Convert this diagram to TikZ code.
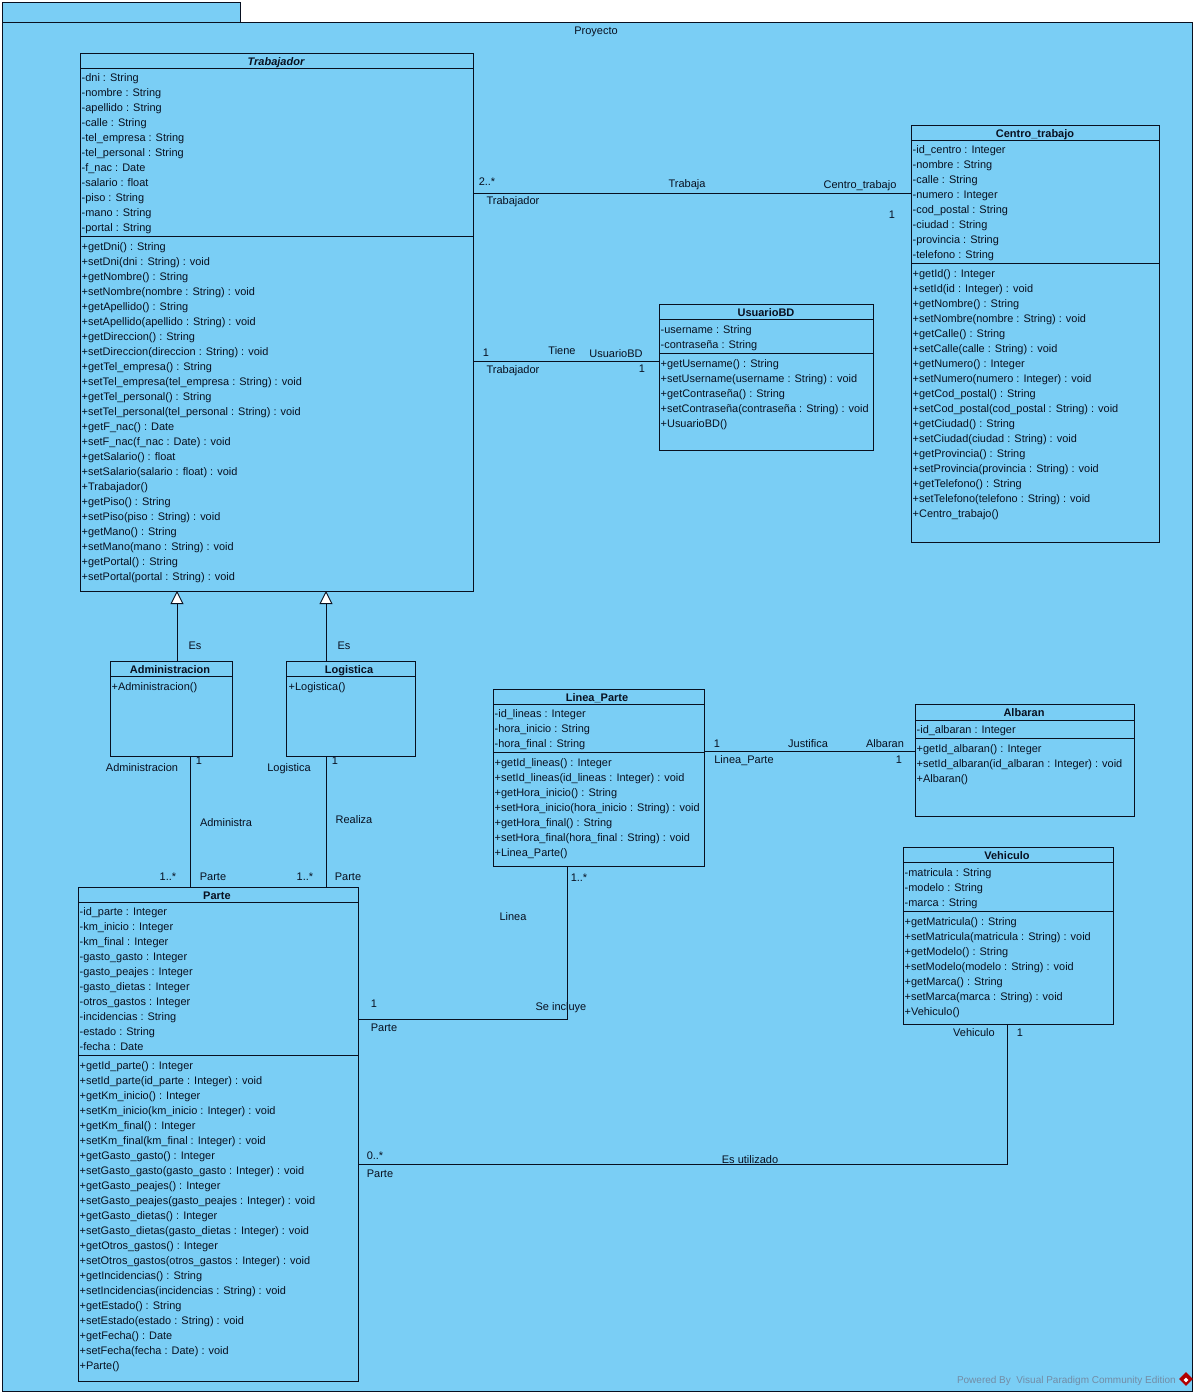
\documentclass[tikz,border=0pt]{standalone}
\usepackage{fontspec}
\setmainfont{Liberation Sans}
\usetikzlibrary{arrows.meta,shapes.geometric}
\definecolor{pkgblue}{RGB}{122,206,245}
\definecolor{umlink}{RGB}{8,16,32}
\definecolor{markgray}{RGB}{115,140,165}
\newcommand{\umlrule}[2]{\draw [umlline] ([yshift=-#2pt]#1.north west) -- ([yshift=-#2pt]#1.north east);}

\begin{document}
\begin{tikzpicture}[x=1pt,y=-1pt]
  \tikzset{umlline/.style={draw=umlink,line width=0.9pt},
    umlbox/.style={rectangle,umlline,anchor=north west,inner sep=0pt,outer sep=0pt},
    pkgbox/.style={umlbox,fill=pkgblue},
    umlname/.style={font=\fontsize{11}{15}\selectfont\bfseries,text=umlink,inner sep=0pt,text height=8pt,text depth=2pt,yshift=-1.5pt},
    umltext/.style={font=\fontsize{10.95}{15}\selectfont,text=umlink,align=left,anchor=north west,inner sep=0pt,xshift=0.5pt,yshift=-3.7pt},
    lbl/.style={font=\fontsize{11}{15}\selectfont,text=umlink,inner sep=0pt,text height=8pt,text depth=2pt,yshift=-1.5pt},
    assoc/.style={umlline},
    gener/.style={umlline,-{Triangle[fill=white,length=13pt,width=13pt,line width=0.9pt]}}}
  \useasboundingbox (0,0) rectangle (1198,1396);

  \node [pkgbox,minimum width=238pt,minimum height=20pt] (tab) at (2,2.5) {};
  \node [pkgbox,minimum width=1190pt,minimum height=1369pt] (proyecto) at (2,22.5) {};
  \node [lbl] (proyectoName) at (596,30) {Proyecto};

  % Trabajador
  \node [umlbox,minimum width=393pt,minimum height=537.5pt] (trabajador) at (80,53.5) {};
  \node [umlname,font=\fontsize{11}{15}\selectfont\bfseries\itshape] (trabajadorName) at (276,61) {Trabajador};
  \umlrule{trabajador}{14.5}
  \umlrule{trabajador}{183}
  \node [umltext] (trabajadorAttr) at (81,70) {-dni : String\\-nombre : String\\-apellido : String\\-calle : String\\-tel\_empresa : String\\-tel\_personal : String\\-f\_nac : Date\\-salario : float\\-piso : String\\-mano : String\\-portal : String};
  \node [umltext] (trabajadorOps) at (81,239) {+getDni() : String\\+setDni(dni : String) : void\\+getNombre() : String\\+setNombre(nombre : String) : void\\+getApellido() : String\\+setApellido(apellido : String) : void\\+getDireccion() : String\\+setDireccion(direccion : String) : void\\+getTel\_empresa() : String\\+setTel\_empresa(tel\_empresa : String) : void\\+getTel\_personal() : String\\+setTel\_personal(tel\_personal : String) : void\\+getF\_nac() : Date\\+setF\_nac(f\_nac : Date) : void\\+getSalario() : float\\+setSalario(salario : float) : void\\+Trabajador()\\+getPiso() : String\\+setPiso(piso : String) : void\\+getMano() : String\\+setMano(mano : String) : void\\+getPortal() : String\\+setPortal(portal : String) : void};

  % Centro_trabajo
  \node [umlbox,minimum width=248pt,minimum height=416.5pt] (centro) at (911,125.5) {};
  \node [umlname] (centroName) at (1035,133) {Centro\_trabajo};
  \umlrule{centro}{14.5}
  \umlrule{centro}{137.5}
  \node [umltext] (centroAttr) at (912,142) {-id\_centro : Integer\\-nombre : String\\-calle : String\\-numero : Integer\\-cod\_postal : String\\-ciudad : String\\-provincia : String\\-telefono : String};
  \node [umltext] (centroOps) at (912,266) {+getId() : Integer\\+setId(id : Integer) : void\\+getNombre() : String\\+setNombre(nombre : String) : void\\+getCalle() : String\\+setCalle(calle : String) : void\\+getNumero() : Integer\\+setNumero(numero : Integer) : void\\+getCod\_postal() : String\\+setCod\_postal(cod\_postal : String) : void\\+getCiudad() : String\\+setCiudad(ciudad : String) : void\\+getProvincia() : String\\+setProvincia(provincia : String) : void\\+getTelefono() : String\\+setTelefono(telefono : String) : void\\+Centro\_trabajo()};

  % UsuarioBD
  \node [umlbox,minimum width=214pt,minimum height=146pt] (usuario) at (659,304) {};
  \node [umlname] (usuarioName) at (766,312) {UsuarioBD};
  \umlrule{usuario}{15}
  \umlrule{usuario}{49}
  \node [umltext] (usuarioAttr) at (660,322) {-username : String\\-contraseña : String};
  \node [umltext] (usuarioOps) at (660,356) {+getUsername() : String\\+setUsername(username : String) : void\\+getContraseña() : String\\+setContraseña(contraseña : String) : void\\+UsuarioBD()};

  % Administracion y Logistica
  \node [umlbox,minimum width=122pt,minimum height=95pt] (administracion) at (110,661) {};
  \node [umlname] (administracionName) at (170,669) {Administracion};
  \umlrule{administracion}{15}
  \node [umltext] (administracionOps) at (111,679) {+Administracion()};
  \node [umlbox,minimum width=129pt,minimum height=95pt] (logistica) at (286,661) {};
  \node [umlname] (logisticaName) at (349,669) {Logistica};
  \umlrule{logistica}{15}
  \node [umltext] (logisticaOps) at (288,679) {+Logistica()};

  % Linea_Parte
  \node [umlbox,minimum width=211pt,minimum height=177pt] (lineaParte) at (493,689) {};
  \node [umlname] (lineaParteName) at (597,697) {Linea\_Parte};
  \umlrule{lineaParte}{15}
  \umlrule{lineaParte}{63}
  \node [umltext] (lineaParteAttr) at (494,706) {-id\_lineas : Integer\\-hora\_inicio : String\\-hora\_final : String};
  \node [umltext] (lineaParteOps) at (494,755) {+getId\_lineas() : Integer\\+setId\_lineas(id\_lineas : Integer) : void\\+getHora\_inicio() : String\\+setHora\_inicio(hora\_inicio : String) : void\\+getHora\_final() : String\\+setHora\_final(hora\_final : String) : void\\+Linea\_Parte()};

  % Albaran
  \node [umlbox,minimum width=219pt,minimum height=112pt] (albaran) at (915,704) {};
  \node [umlname] (albaranName) at (1024,712) {Albaran};
  \umlrule{albaran}{16}
  \umlrule{albaran}{34}
  \node [umltext] (albaranAttr) at (916,722) {-id\_albaran : Integer};
  \node [umltext] (albaranOps) at (916,741) {+getId\_albaran() : Integer\\+setId\_albaran(id\_albaran : Integer) : void\\+Albaran()};

  % Vehiculo
  \node [umlbox,minimum width=210pt,minimum height=177pt] (vehiculo) at (903,847) {};
  \node [umlname] (vehiculoName) at (1007,855) {Vehiculo};
  \umlrule{vehiculo}{15}
  \umlrule{vehiculo}{64}
  \node [umltext] (vehiculoAttr) at (904,865) {-matricula : String\\-modelo : String\\-marca : String};
  \node [umltext] (vehiculoOps) at (904,914) {+getMatricula() : String\\+setMatricula(matricula : String) : void\\+getModelo() : String\\+setModelo(modelo : String) : void\\+getMarca() : String\\+setMarca(marca : String) : void\\+Vehiculo()};

  % Parte
  \node [umlbox,minimum width=280pt,minimum height=494pt] (parte) at (78,887) {};
  \node [umlname] (parteName) at (217,895) {Parte};
  \umlrule{parte}{15}
  \umlrule{parte}{168}
  \node [umltext] (parteAttr) at (79,904) {-id\_parte : Integer\\-km\_inicio : Integer\\-km\_final : Integer\\-gasto\_gasto : Integer\\-gasto\_peajes : Integer\\-gasto\_dietas : Integer\\-otros\_gastos : Integer\\-incidencias : String\\-estado : String\\-fecha : Date};
  \node [umltext] (parteOps) at (79,1058) {+getId\_parte() : Integer\\+setId\_parte(id\_parte : Integer) : void\\+getKm\_inicio() : Integer\\+setKm\_inicio(km\_inicio : Integer) : void\\+getKm\_final() : Integer\\+setKm\_final(km\_final : Integer) : void\\+getGasto\_gasto() : Integer\\+setGasto\_gasto(gasto\_gasto : Integer) : void\\+getGasto\_peajes() : Integer\\+setGasto\_peajes(gasto\_peajes : Integer) : void\\+getGasto\_dietas() : Integer\\+setGasto\_dietas(gasto\_dietas : Integer) : void\\+getOtros\_gastos() : Integer\\+setOtros\_gastos(otros\_gastos : Integer) : void\\+getIncidencias() : String\\+setIncidencias(incidencias : String) : void\\+getEstado() : String\\+setEstado(estado : String) : void\\+getFecha() : Date\\+setFecha(fecha : Date) : void\\+Parte()};

  % conectores
  \draw [assoc] ([yshift=-139.5pt]trabajador.north east) -- ([yshift=-67.5pt]centro.north west);
  \draw [assoc] ([yshift=-307.5pt]trabajador.north east) -- ([yshift=-57pt]usuario.north west);
  \draw [assoc] ([yshift=-62pt]lineaParte.north east) -- ([yshift=-47pt]albaran.north west);
  \draw [gener] ([xshift=67pt]administracion.north west) -- ([xshift=97pt]trabajador.south west);
  \draw [gener] ([xshift=40pt]logistica.north west) -- ([xshift=246pt]trabajador.south west);
  \draw [assoc] ([xshift=80pt]administracion.south west) -- ([xshift=112pt]parte.north west);
  \draw [assoc] ([xshift=40pt]logistica.south west) -- ([xshift=248pt]parte.north west);
  \draw [assoc] ([yshift=-132pt]parte.north east) -| ([xshift=74pt]lineaParte.south west);
  \draw [assoc] ([yshift=-277pt]parte.north east) -| ([xshift=104pt]vehiculo.south west);

  % etiquetas
  \node [lbl] (trabajaMultA) at (487,181) {2..*};
  \node [lbl] (trabajaRolA) at (513,200) {Trabajador};
  \node [lbl] (trabajaName) at (687,183) {Trabaja};
  \node [lbl] (trabajaRolB) at (860,184) {Centro\_trabajo};
  \node [lbl] (trabajaMultB) at (892,214) {1};
  \node [lbl] (tieneMultA) at (486,352) {1};
  \node [lbl] (tieneRolA) at (513,369) {Trabajador};
  \node [lbl] (tieneName) at (562,350) {Tiene};
  \node [lbl] (tieneRolB) at (616,353) {UsuarioBD};
  \node [lbl] (tieneMultB) at (642,368) {1};
  \node [lbl] (esAdmin) at (195,645) {Es};
  \node [lbl] (esLogistica) at (344,645) {Es};
  \node [lbl] (administraRolA) at (142,767) {Administracion};
  \node [lbl] (administraMultA) at (199,760) {1};
  \node [lbl] (administraName) at (226,822) {Administra};
  \node [lbl] (administraMultB) at (168,876) {1..*};
  \node [lbl] (administraRolB) at (213,876) {Parte};
  \node [lbl] (realizaRolA) at (289,767) {Logistica};
  \node [lbl] (realizaMultA) at (335,760) {1};
  \node [lbl] (realizaName) at (354,819) {Realiza};
  \node [lbl] (realizaMultB) at (305,876) {1..*};
  \node [lbl] (realizaRolB) at (348,876) {Parte};
  \node [lbl] (justificaMultA) at (717,743) {1};
  \node [lbl] (justificaRolA) at (744,759) {Linea\_Parte};
  \node [lbl] (justificaName) at (808,743) {Justifica};
  \node [lbl] (justificaRolB) at (885,743) {Albaran};
  \node [lbl] (justificaMultB) at (899,759) {1};
  \node [lbl] (incluyeMultB) at (579,877) {1..*};
  \node [lbl] (incluyeRolB) at (513,916) {Linea};
  \node [lbl] (incluyeMultA) at (374,1003) {1};
  \node [lbl] (incluyeRolA) at (384,1027) {Parte};
  \node [lbl] (incluyeName) at (561,1006) {Se incluye};
  \node [lbl] (utilizadoRolB) at (974,1032) {Vehiculo};
  \node [lbl] (utilizadoMultB) at (1020,1032) {1};
  \node [lbl] (utilizadoMultA) at (375,1155) {0..*};
  \node [lbl] (utilizadoRolA) at (380,1173) {Parte};
  \node [lbl] (utilizadoName) at (750,1159) {Es utilizado};

  % marca de agua
  \node [lbl,font=\fontsize{10}{15}\selectfont,text=markgray,anchor=east] (powered) at (1176,1379) {Powered By\ \ Visual Paradigm Community Edition};
  \node [diamond,fill=red!70!black,minimum width=14pt,minimum height=14pt,inner sep=0pt] (vpLogo) at (1186,1379) {};
  \node [diamond,fill=white,minimum width=5pt,minimum height=5pt,inner sep=0pt] (vpLogoMark) at (1186,1380) {};
\end{tikzpicture}
\end{document}
